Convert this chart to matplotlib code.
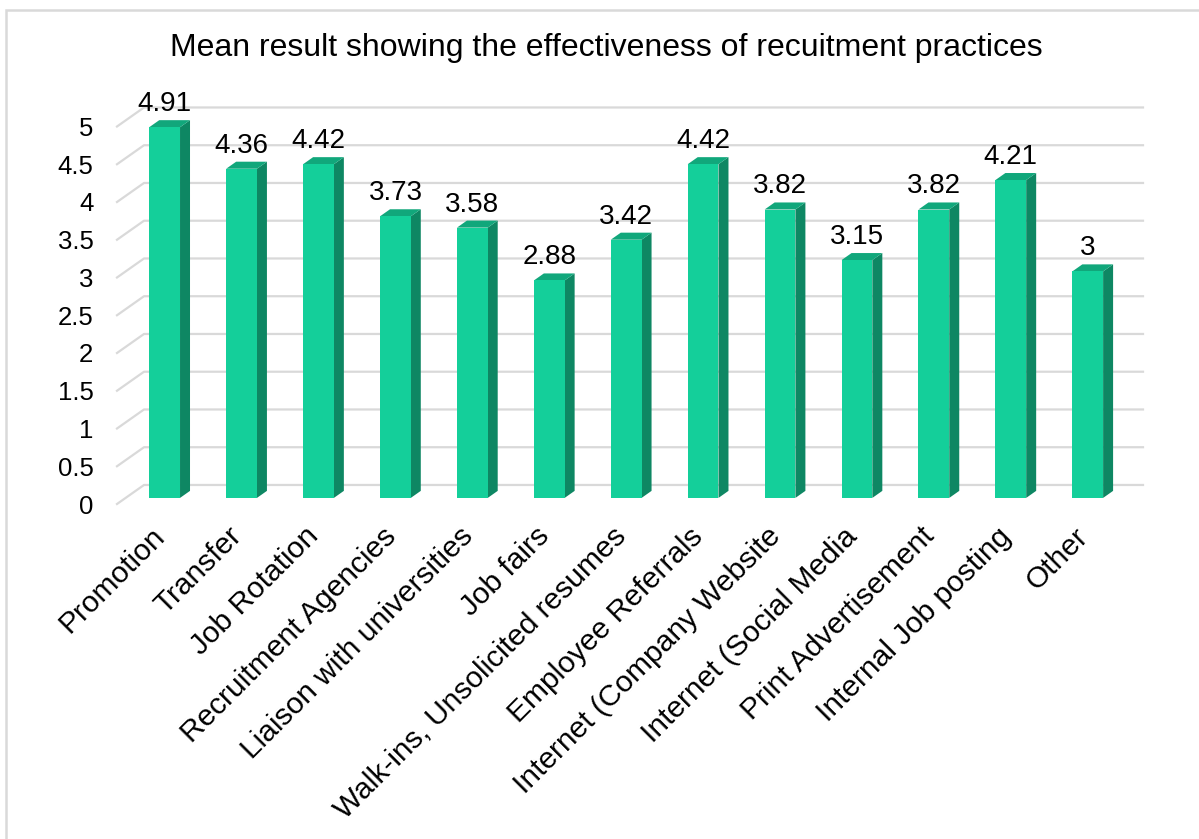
import numpy as np
import matplotlib.pyplot as plt
from matplotlib.patches import Polygon, Rectangle

plt.rcParams['font.family'] = ['Liberation Sans', 'DejaVu Sans']

categories = ['Promotion', 'Transfer', 'Job Rotation', 'Recruitment Agencies',
              'Liaison with universities', 'Job fairs', 'Walk-ins, Unsolicited resumes',
              'Employee Referrals', 'Internet (Company Website', 'Internet (Social Media',
              'Print Advertisement', 'Internal Job posting', 'Other']
means = [4.91, 4.36, 4.42, 3.73, 3.58, 2.88, 3.42, 4.42, 3.82, 3.15, 3.82, 4.21, 3]
yticks = [0, 0.5, 1, 1.5, 2, 2.5, 3, 3.5, 4, 4.5, 5]
ytick_labels = ['0', '0.5', '1', '1.5', '2', '2.5', '3', '3.5', '4', '4.5', '5']

# pseudo-3d look: depth direction in data units
DX, DY = 0.351, 0.252
d0, dd = 0.32, 0.37      # bar front depth and bar thickness
w = 0.40
front_c = '#14cf9a'
side_c = '#0e8763'
top_c = '#11a77b'
grid_c = '#d9d9d9'

fig = plt.figure(figsize=(11.99, 8.39), dpi=100)
fig.add_artist(Rectangle((6 / 1199, -0.01), 1.1, 1 - 10 / 839 + 0.01,
                         transform=fig.transFigure, fill=False,
                         edgecolor=grid_c, linewidth=1.8))
ax = fig.add_axes([117 / 1199, (839 - 504) / 839, 999 / 1199, 5.3 * 75.5 / 839])
xl, xr = -0.507, 12.48
ax.set_xlim(xl, xr)
ax.set_ylim(0, 5.3)
for s in ax.spines.values():
    s.set_visible(False)

# walls: diagonal side-wall lines plus back-wall gridlines
for v in yticks:
    ax.plot([xl, xl + DX, xr + DX], [v, v + DY, v + DY], color=grid_c,
            lw=1.6, clip_on=False, zorder=1)

x = np.arange(len(means))
xf = x + d0 * DX
bottom = d0 * DY
ax.bar(xf, means, width=w, bottom=bottom, color=front_c, zorder=3)
for xi, v in zip(xf, means):
    top = bottom + v
    r = xi + w / 2
    l = xi - w / 2
    side = Polygon([(r, bottom), (r, top), (r + dd * DX, top + dd * DY),
                    (r + dd * DX, bottom + dd * DY)], closed=True,
                   facecolor=side_c, edgecolor='none', zorder=2, clip_on=False)
    lid = Polygon([(l, top), (r, top), (r + dd * DX, top + dd * DY),
                   (l + dd * DX, top + dd * DY)], closed=True,
                  facecolor=top_c, edgecolor='none', zorder=2, clip_on=False)
    ax.add_patch(side)
    ax.add_patch(lid)
    ax.text(xi, top + dd * DY + 0.12, f'{v:g}', ha='center', va='baseline',
            fontsize=20, zorder=4)

ax.set_yticks(yticks)
ax.set_yticklabels(ytick_labels)
ax.tick_params(axis='y', length=0, pad=17, labelsize=18.5)
ax.set_xticks([])
for xi, name in zip(xf, categories):
    ax.text(xi - 0.18, -0.24, name, rotation=45, rotation_mode='anchor',
            ha='right', va='top', fontsize=21.5)

fig.text(606 / 1199, 1 - 48 / 839, 'Mean result showing the effectiveness of recuitment practices',
         ha='center', va='center', fontsize=23)

fig.savefig('out.png', dpi=100)
